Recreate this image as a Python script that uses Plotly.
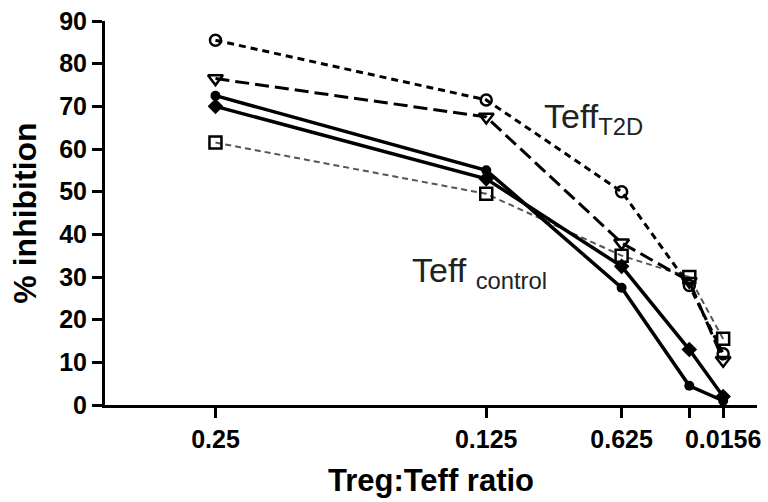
import plotly.graph_objects as go

ratios = [0.25, 0.125, 0.0625, 0.03125, 0.015625]
tick_text = ["0.25", "0.125", "0.625", "", "0.0156"]

t2d_circle = [85.5, 71.5, 50, 28, 12]
t2d_triangle = [76.5, 67.5, 38, 29, 10.5]
t2d_square = [61.5, 49.5, 35, 30, 15.5]
ctrl_circle = [72.5, 55, 27.5, 4.5, 1]
ctrl_diamond = [70, 53, 32.5, 13, 2]

FONT = "Liberation Sans, Arial, sans-serif"

fig = go.Figure()

fig.add_trace(go.Scatter(
    x=ratios, y=t2d_square, mode="lines+markers", cliponaxis=False,
    line=dict(color="#555555", width=2, dash="6px,4px"),
    marker=dict(symbol="square-open", size=12, color="black", line=dict(width=2.5, color="black")),
))
fig.add_trace(go.Scatter(
    x=ratios, y=t2d_circle, mode="lines+markers", cliponaxis=False,
    line=dict(color="black", width=3, dash="7px,5px"),
    marker=dict(symbol="circle-open", size=11, color="black", line=dict(width=2.5, color="black")),
))
fig.add_trace(go.Scatter(
    x=ratios, y=t2d_triangle, mode="lines+markers", cliponaxis=False,
    line=dict(color="black", width=3, dash="14px,6px"),
    marker=dict(symbol="triangle-down-open", size=13, color="black", line=dict(width=2.5, color="black")),
))
fig.add_trace(go.Scatter(
    x=ratios, y=ctrl_circle, mode="lines+markers", cliponaxis=False,
    line=dict(color="black", width=3.5),
    marker=dict(symbol="circle", size=10, color="black"),
))
fig.add_trace(go.Scatter(
    x=ratios, y=ctrl_diamond, mode="lines+markers", cliponaxis=False,
    line=dict(color="black", width=3.5),
    marker=dict(symbol="diamond", size=12, color="black"),
))

fig.add_annotation(
    text="Teff<sub>T2D</sub>", xref="paper", yref="paper", x=0.67, y=0.747,
    xanchor="left", yanchor="middle", showarrow=False,
    font=dict(family=FONT, size=34, color="#222222"),
)
fig.add_annotation(
    text="Teff <sub>control</sub>", xref="paper", yref="paper", x=0.468, y=0.344,
    xanchor="left", yanchor="middle", showarrow=False,
    font=dict(family=FONT, size=34, color="#222222"),
)

fig.update_layout(
    width=768, height=502,
    margin=dict(l=105, r=11, t=21, b=97),
    paper_bgcolor="white", plot_bgcolor="white",
    showlegend=False,
    font=dict(family=FONT, color="black"),
)
fig.update_xaxes(
    range=[0.301, 0], tickmode="array", tickvals=ratios, ticktext=tick_text,
    showgrid=False, zeroline=False, showline=True, linecolor="black", linewidth=3,
    ticks="outside", ticklen=10, tickwidth=3, tickcolor="black",
    tickfont=dict(family=FONT, size=25, weight="bold", color="black"),
    title=dict(text="Treg:Teff ratio", font=dict(family=FONT, size=31, weight="bold", color="black"), standoff=18),
    automargin=False,
)
fig.update_yaxes(
    range=[0, 90], tickmode="array", tickvals=[0, 10, 20, 30, 40, 50, 60, 70, 80, 90],
    showgrid=False, zeroline=False, showline=True, linecolor="black", linewidth=3,
    ticks="outside", ticklen=10, tickwidth=3, tickcolor="black",
    tickfont=dict(family=FONT, size=25, weight="bold", color="black"),
    title=dict(text="% inhibition", font=dict(family=FONT, size=32, weight="bold", color="black"), standoff=13),
    automargin=False,
)

fig.write_html(
    "out.html",
    config={"displayModeBar": False},
    post_script="document.body.style.margin='0';document.body.style.overflow='hidden';",
)
